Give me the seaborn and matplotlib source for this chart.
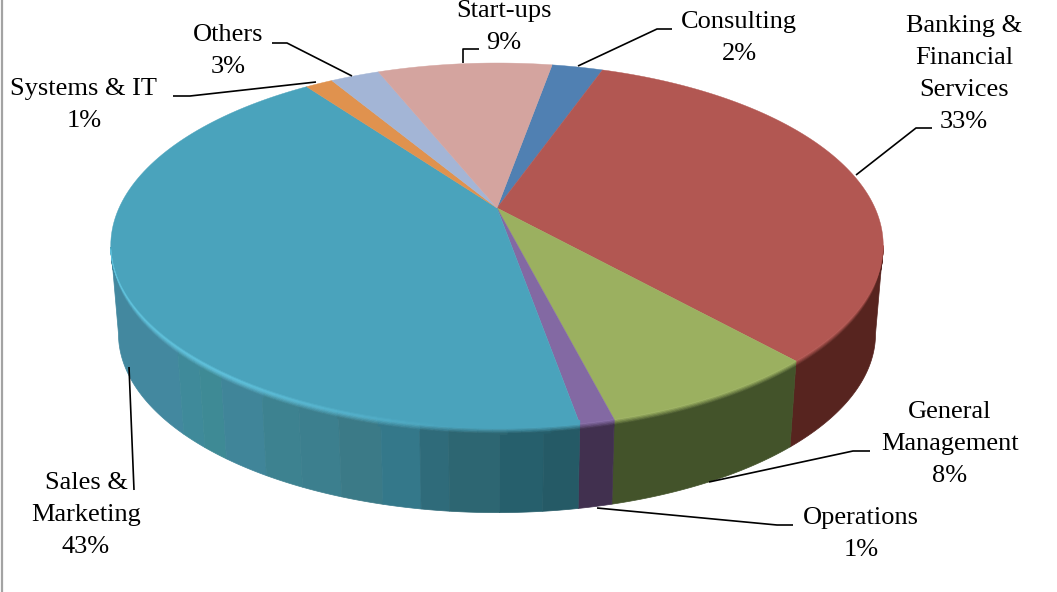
import matplotlib
matplotlib.use('Agg')
import matplotlib.pyplot as plt
import numpy as np
import seaborn as sns
from matplotlib.colors import to_rgb

# slices clockwise, starting from Consulting
categories = ['Consulting', 'Banking &\nFinancial\nServices', 'General\nManagement', 'Operations',
              'Sales &\nMarketing', 'Systems & IT', 'Others', 'Start-ups']
shares = [2.6, 32.9, 7.7, 1.2, 42.8, 1.4, 2.5, 8.9]
shown_pct = ['2%', '33%', '8%', '1%', '43%', '1%', '3%', '9%']

top_colors = ['#5080b2', '#b25752', '#9bb060', '#8369a3', '#4aa3bc', '#e0924e', '#a3b5d6', '#d4a49f']
side_colors = ['#3a5c80', '#57241f', '#43532a', '#41304f', '#3f8096', '#a06830', '#75829a', '#987572']

first_angle = 10.1

# label centre (px) per slice, then its leader line
label_pos = [(739, 38), (964, 74), (950, 444), (861, 534), (86, 515), (84, 105), (228, 51), (504, 27)]
leaders = [
    [(578, 66), (657, 29), (672, 29)],
    [(856, 175), (916, 128), (932, 128)],
    [(709, 482), (853, 451), (870, 451)],
    [(597, 508), (777, 525), (793, 525)],
    [(129, 367), (134, 490)],
    [(173, 96), (190, 96), (316, 82)],
    [(272, 43), (287, 43), (352, 76)],
    [(463, 63), (463, 49), (479, 49)],
]

# perspective of the disc
cx, cy = 497, 208
A, B, k = 378, 174.8, 0.2055
depth_y, depth_scale = 89, 0.98

# shading of the long Sales side, screen x where each band starts
sales_x = [100, 178, 200, 222, 262, 300, 340, 382, 420, 450, 500, 545]
sales_rim = ['#43889f', '#3f8a9a', '#3e8a95', '#408599', '#3d8290', '#3c7f8e', '#3b7a87', '#34788a',
             '#2f6b7a', '#2d6672', '#265f6c', '#255a66']


def project(theta, row=0.0):
    t = np.radians(theta)
    X, Y = np.sin(t), np.cos(t)
    w = 1 + k * Y
    s = 1 - (1 - depth_scale) * row
    return cx + s * A * X / w, cy + depth_y * row - s * B * Y / w


def mix(a, b, f):
    return tuple((1 - f) * np.array(to_rgb(a)) + f * np.array(to_rgb(b)))


def strip(ax, thetas, row0, row1, color, z=1):
    xa, ya = project(thetas, row0)
    xb, yb = project(thetas[::-1], row1)
    ax.fill(np.r_[xa, xb], np.r_[ya, yb], color=color, lw=0.5, zorder=z)


sns.set_theme(style='white')
plt.rcParams['font.family'] = ['Liberation Serif', 'DejaVu Serif']

fig, ax = plt.subplots(figsize=(10.57, 5.92), dpi=100)
fig.subplots_adjust(left=0, right=1, bottom=0, top=1)
ax.set_xlim(0, 1057)
ax.set_ylim(592, 0)
ax.axis('off')

edges = first_angle + np.cumsum([0] + shares) * 3.6
turn = np.degrees(np.arcsin(k))
soft_rows = [0, 0.015, 0.03, 0.045, 0.06, 0.08]

for i in range(len(shares)):
    # only the near half of the side can be seen
    lo = max(edges[i], 90 + turn)
    hi = min(edges[i + 1], 270 - turn)
    if lo >= hi:
        continue
    thetas = np.linspace(lo, hi, 400)
    if categories[i].startswith('Sales'):
        xs, _ = project(thetas)
        band = np.searchsorted(sales_x, xs, side='right') - 1
        for b in np.unique(band):
            part = np.where(band == b)[0]
            part = np.r_[part, min(part[-1] + 1, len(thetas) - 1)]
            strip(ax, thetas[part], 0.07, 1.0, sales_rim[b])
        # lit lip along the rim, brightest on the left
        for s in range(0, len(thetas) - 8, 8):
            piece = thetas[s:s + 9]
            x_mid = xs[s + 4]
            glow = np.clip((450 - x_mid) / 220, 0, 1)
            lit = mix(top_colors[i], '#5fc0da', glow)
            base = sales_rim[band[s + 4]]
            ramp = sns.blend_palette([lit, base], len(soft_rows) - 1)
            for j in range(len(soft_rows) - 1):
                strip(ax, piece, soft_rows[j], soft_rows[j + 1], ramp[j])
            lift = sns.blend_palette([top_colors[i], lit], 3)
            strip(ax, piece, -0.04, -0.025, lift[0], z=3)
            strip(ax, piece, -0.025, -0.012, lift[1], z=3)
            strip(ax, piece, -0.012, 0.0, lift[2], z=3)
    else:
        strip(ax, thetas, 0.07, 1.0, side_colors[i])
        ramp = sns.blend_palette([top_colors[i], side_colors[i]], len(soft_rows) - 1)
        for j in range(len(soft_rows) - 1):
            strip(ax, thetas, soft_rows[j], soft_rows[j + 1], ramp[j])

for i in range(len(shares)):
    thetas = np.linspace(edges[i], edges[i + 1], 120)
    xs, ys = project(thetas)
    ax.fill(np.r_[cx, xs], np.r_[cy, ys], color=top_colors[i], lw=0.3, zorder=2)

for i, pts in enumerate(leaders):
    px, py = zip(*pts)
    ax.plot(px, py, color='black', lw=1.2, solid_capstyle='butt', zorder=4)
    ax.text(*label_pos[i], categories[i] + '\n' + shown_pct[i], ha='center', va='center',
            fontsize=19, color='black', linespacing=1.57, zorder=5)

ax.plot([2, 2], [0, 592], color='#a3a3a3', lw=1.6, zorder=0)

fig.savefig('out.png', dpi=100)
